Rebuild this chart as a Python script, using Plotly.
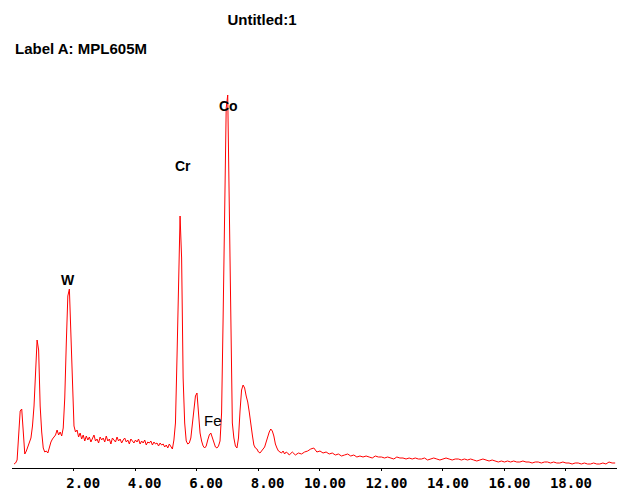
import plotly.graph_objects as go

# Channel energies (keV) and counts
energy_fine = [
    0.05, 0.10, 0.15, 0.20, 0.25, 0.30, 0.35, 0.40, 0.45, 0.50,
    0.55, 0.60, 0.65, 0.70, 0.75, 0.80, 0.85, 0.90, 0.95, 1.00,
    1.05, 1.10, 1.15, 1.20, 1.25, 1.30, 1.35, 1.40, 1.45, 1.50,
    1.55, 1.60, 1.65, 1.70, 1.75, 1.80, 1.85, 1.90, 1.95, 2.00,
    2.05, 2.10, 2.15, 2.20, 2.25, 2.30, 2.35, 2.40, 2.45, 2.50,
    2.55, 2.60, 2.65, 2.70, 2.75, 2.80, 2.85, 2.90, 2.95, 3.00,
    3.05, 3.10, 3.15, 3.20, 3.25, 3.30, 3.35, 3.40, 3.45, 3.50,
    3.55, 3.60, 3.65, 3.70, 3.75, 3.80, 3.85, 3.90, 3.95, 4.00,
    4.05, 4.10, 4.15, 4.20, 4.25, 4.30, 4.35, 4.40, 4.45, 4.50,
    4.55, 4.60, 4.65, 4.70, 4.75, 4.80, 4.85, 4.90, 4.95, 5.00,
    5.05, 5.10, 5.15, 5.20, 5.25, 5.30, 5.35, 5.40, 5.45, 5.50,
    5.55, 5.60, 5.65, 5.70, 5.75, 5.80, 5.85, 5.90, 5.95, 6.00,
    6.05, 6.10, 6.15, 6.20, 6.25, 6.30, 6.35, 6.40, 6.45, 6.50,
    6.55, 6.60, 6.65, 6.70, 6.75, 6.80, 6.85, 6.90, 6.95, 7.00,
    7.05, 7.10, 7.15, 7.20, 7.25, 7.30, 7.35, 7.40, 7.45, 7.50,
    7.55, 7.60, 7.65, 7.70, 7.75, 7.80, 7.85, 7.90, 7.95, 8.00,
    8.05, 8.10, 8.15, 8.20, 8.25, 8.30, 8.35, 8.40, 8.45, 8.50,
    8.55, 8.60, 8.65, 8.70, 8.75, 8.80, 8.85, 8.90, 8.95, 9.00,
]
counts_fine = [
    4, 5, 8, 40, 57, 59, 33, 14, 17, 22,
    26, 30, 42, 62, 95, 128, 118, 62, 36, 20,
    16, 17, 15, 22, 26, 29, 31, 33, 38, 33,
    36, 32, 40, 70, 125, 172, 179, 135, 70, 42,
    36, 38, 31, 35, 29, 33, 27, 32, 28, 31,
    26, 30, 33, 27, 29, 25, 31, 28, 30, 26,
    32, 27, 29, 24, 30, 28, 26, 31, 27, 29,
    25, 28, 30, 26, 28, 24, 29, 27, 25, 28,
    26, 29, 24, 27, 25, 28, 23, 26, 25, 27,
    23, 26, 24, 25, 22, 25, 23, 24, 21, 23,
    20, 24, 21, 19, 28, 45, 110, 200, 252, 210,
    90, 45, 27, 24, 25, 30, 45, 60, 72, 75,
    55, 35, 27, 22, 20, 22, 28, 33, 35, 31,
    25, 21, 20, 22, 27, 55, 150, 280, 360, 373,
    250, 120, 45, 30, 22, 20, 30, 57, 78, 83,
    80, 72, 66, 56, 42, 33, 23, 20, 19, 16,
    15, 17, 18, 21, 26, 32, 36, 39, 37, 32,
    24, 20, 17, 16, 15, 17, 14, 16, 15, 13,
]
energy_coarse = [
    9.1, 9.2, 9.3, 9.4, 9.5, 9.6, 9.7, 9.8, 9.9, 10.0,
    10.1, 10.2, 10.3, 10.4, 10.5, 10.6, 10.7, 10.8, 10.9, 11.0,
    11.1, 11.2, 11.3, 11.4, 11.5, 11.6, 11.7, 11.8, 11.9, 12.0,
    12.1, 12.2, 12.3, 12.4, 12.5, 12.6, 12.7, 12.8, 12.9, 13.0,
    13.1, 13.2, 13.3, 13.4, 13.5, 13.6, 13.7, 13.8, 13.9, 14.0,
    14.1, 14.2, 14.3, 14.4, 14.5, 14.6, 14.7, 14.8, 14.9, 15.0,
    15.1, 15.2, 15.3, 15.4, 15.5, 15.6, 15.7, 15.8, 15.9, 16.0,
    16.1, 16.2, 16.3, 16.4, 16.5, 16.6, 16.7, 16.8, 16.9, 17.0,
    17.1, 17.2, 17.3, 17.4, 17.5, 17.6, 17.7, 17.8, 17.9, 18.0,
    18.1, 18.2, 18.3, 18.4, 18.5, 18.6, 18.7, 18.8, 18.9, 19.0,
    19.1, 19.2, 19.3, 19.4, 19.5, 19.6,
]
counts_coarse = [
    16, 13, 15, 14, 16, 17, 19, 20, 16, 17,
    15, 16, 14, 15, 13, 14, 12, 13, 14, 12,
    13, 11, 12, 11, 12, 11, 10, 12, 11, 11,
    10, 11, 10, 9, 11, 10, 10, 9, 10, 9,
    10, 9, 9, 10, 8, 9, 10, 9, 8, 9,
    10, 9, 8, 9, 9, 8, 9, 8, 9, 8,
    7, 8, 9, 8, 7, 8, 7, 6, 7, 6,
    7, 6, 7, 6, 6, 7, 6, 6, 5, 6,
    6, 5, 6, 6, 5, 6, 5, 5, 6, 5,
    5, 4, 5, 5, 4, 5, 4, 4, 5, 4,
    4, 5, 4, 6, 5, 5,
]

tick_values = [2, 4, 6, 8, 10, 12, 14, 16, 18]
tick_labels = ["\u00a02.00", "\u00a04.00", "\u00a06.00", "\u00a08.00",
               "10.00", "12.00", "14.00", "16.00", "18.00"]

peak_names = ["W", "Cr", "Co", "Fe"]
peak_label_kev = [1.82, 5.54, 7.04, 6.52]
peak_label_counts = [188, 302, 362, 48]
peak_label_bold = [True, True, True, False]

energy = energy_fine + energy_coarse
counts = counts_fine + counts_coarse

fig = go.Figure()
fig.add_trace(go.Scatter(
    x=energy, y=counts, mode="lines",
    line=dict(color="#ff0000", width=1),
    showlegend=False, hoverinfo="x+y",
))

for name, ex, cy, bold in zip(peak_names, peak_label_kev, peak_label_counts, peak_label_bold):
    fig.add_annotation(
        x=ex, y=cy, xref="x", yref="y", text=name, showarrow=False,
        font=dict(family="Liberation Sans", size=14 if bold else 15,
                  color="black", weight="bold" if bold else "normal"),
        xanchor="center", yanchor="middle",
    )

fig.add_annotation(
    x=0.002, y=1.029, xref="paper", yref="paper", text="Label A: MPL605M",
    showarrow=False, xanchor="left", yanchor="middle",
    font=dict(family="Liberation Sans", size=15, color="black", weight="bold"),
)

fig.update_layout(
    width=617, height=490,
    margin=dict(l=12, r=0, t=60, b=22, autoexpand=False),
    paper_bgcolor="white", plot_bgcolor="white",
    title=dict(text="Untitled:1", x=0.4246, xref="container", xanchor="center",
               y=1 - 20 / 490, yref="container", yanchor="middle",
               font=dict(family="Liberation Sans", size=15, color="black", weight="bold")),
    xaxis=dict(
        range=[-0.016, 19.66], showgrid=False, zeroline=False,
        showline=True, linecolor="black", linewidth=1,
        ticks="outside", ticklen=2, tickcolor="black", tickwidth=1,
        tickvals=tick_values, ticktext=tick_labels, ticklabelshift=5,
        ticklabelstandoff=0,
        tickfont=dict(family="DejaVu Sans Mono", size=14, color="black", weight="bold"),
    ),
    yaxis=dict(range=[0, 408], visible=False),
)

fig.write_html("out.html", config={"displayModeBar": False},
               post_script="document.body.style.margin='0';")
